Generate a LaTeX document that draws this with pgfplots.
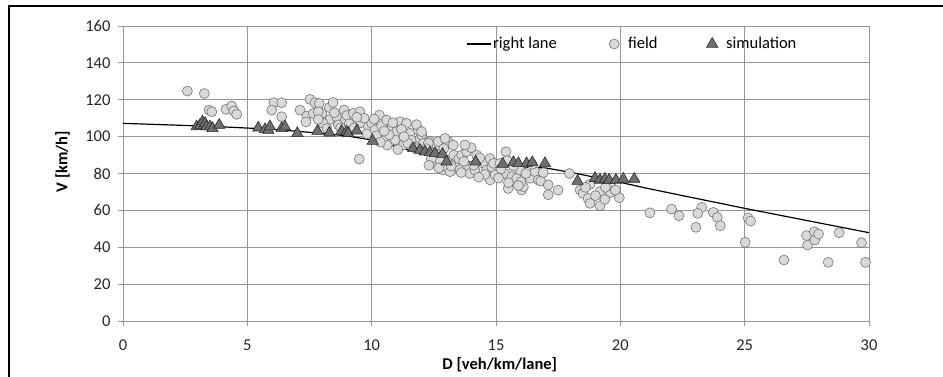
\documentclass[border=0pt]{standalone}
\usepackage{pgfplots}
\pgfplotsset{compat=1.18}
\usepackage{fontspec}
\setmainfont{Carlito}
\definecolor{gridc}{RGB}{150,150,150}
\definecolor{fieldfill}{RGB}{217,217,217}
\definecolor{fielddraw}{RGB}{115,115,115}
\definecolor{simfill}{RGB}{112,112,112}
\definecolor{simdraw}{RGB}{40,40,40}
\newcommand{\cf}{\fontsize{16.5}{20}\selectfont}
\pgfplotsset{
  linelegend/.style={legend image code/.code={\draw[##1] (0pt,0pt) -- (24pt,0pt);}},
  marklegend/.style={legend image code/.code={\path[draw=none,fill=none] (0pt,-3pt) rectangle (24pt,3pt); \draw[mark repeat=2,mark phase=2,##1] plot coordinates {(0pt,0pt) (12pt,0pt) (24pt,0pt)};}},
}
\begin{document}
\begin{tikzpicture}
\begin{axis}[
  at={(0,0)}, anchor=south west,
  x=24.867pt, y=1.84375pt,
  xmin=0, xmax=30, ymin=0, ymax=160,
  xtick={0,5,...,30}, ytick={0,20,...,160},
  clip=false,
  grid=major,
  major grid style={draw=gridc, line width=0.8pt},
  axis line style={draw=gridc, line width=0.8pt},
  tick style={draw=gridc, line width=0.8pt},
  tick align=outside, major tick length=5pt,
  xtick pos=lower, ytick pos=left,
  /pgf/number format/assume math mode=true,
  tick label style={font=\cf, text=black!85},
  xticklabel style={yshift=-10pt},
  yticklabel style={xshift=-4pt},
  label style={font=\cf\bfseries, text=black},
  xlabel={D [veh/km/lane]},
  ylabel={V [km/h]},
  xlabel style={at={(axis description cs:0.505,0)}, anchor=base, yshift=-48pt},
  ylabel style={at={(axis description cs:-0.0744,0.54)}, anchor=base},
  legend columns=3,
  legend style={at={(0.4598,0.939)}, anchor=west, draw=none, fill=none,
    inner sep=0pt, outer sep=0pt, nodes={inner sep=2pt}, font=\cf,
    /tikz/column sep=0pt},
]
\addplot[black, line width=1.2pt, linelegend]
  coordinates {(0,107.2) (2,106.3) (4,105.3) (6,104.0) (8,101.8) (9,100.4) (10,98.2) (11,94.5) (12,90.8) (13,88.5) (14,86.2) (15,84.4) (16,83.6) (17,83.0) (18,80.6) (19,77.9) (20,75.2) (21,72.2) (22,69.4) (25,61.1) (30,47.9)};
\addlegendentry{\makebox[107pt][l]{right lane}}
\addplot[only marks, mark=*, mark size=5pt,
  mark options={fill=fieldfill, draw=fielddraw, line width=0.6pt}, marklegend]
  coordinates {
  (2.59,124.7) (3.27,123.4) (3.46,114.4) (3.57,113.5) (4.14,114.8) (4.37,116.6) (4.46,113.9) (4.57,112.1)
  (6.07,118.4) (6.38,118.4) (5.98,114.4) (6.38,110.8) (7.12,114.4) (7.39,111.2) (7.36,108)
  (7.52,120.2) (7.72,118.4) (7.89,118) (7.65,112.6) (8.0,112.6) (8.3,115.8) (8.32,109.3) (8.59,110.8)
  (8.89,114.4) (8.93,109) (8.05,107.2) (8.66,106.3) (7.85,113.5) (7.85,109.3) (8.2,104.5) (8.5,113)
  (8.75,104.8) (9.0,111.5) (8.45,118.5) (9.1,107)
  (9.26,112.6) (9.53,113.5) (9.56,107.6) (9.86,105.4) (10,107.2) (10.31,111.7) (10.13,103.6) (9.3,104.8)
  (9.7,110) (10.1,109.5) (9.5,87.8) (9.8,101.5) (10.4,106) (10.2,100.5) (9.4,110.5)
  (10.6,109) (10.8,104.5) (11,102.7) (11.14,108.1) (11.4,107.2) (10.94,98.2) (10.63,95.4) (11.27,95.4)
  (11.54,101.8) (11.87,103.6) (10.7,101) (11.2,104) (11.6,98) (11.8,106.5) (10.5,103) (11.45,96.5)
  (10.85,107.5) (11.95,99) (11.3,100) (11.7,94) (10.35,97) (11.05,93)
  (12.01,100.9) (12.08,96.4) (12.34,97.3) (12.61,95.4) (12.75,90.9) (12.55,85.5) (12.88,81.9) (13.02,87.1)
  (12.01,102.7) (12.28,96.4) (12.68,97.3) (13.08,97.3) (13.28,95.4) (12.48,90.9) (12.75,87.1) (13.02,83.6)
  (13.15,81) (13.42,85.5) (12.2,93.5) (12.9,93.5) (13.3,90) (12.4,88) (13.5,88)
  (12.3,84.5) (12.7,83) (13.2,84) (12.95,99)
  (13.62,90) (13.82,91.8) (13.88,83.6) (13.95,80) (14.15,81.9) (14.22,90) (14.49,85.5) (14.62,81.9)
  (14.76,88.1) (14.83,83.6) (14.76,76.5) (14.96,79.2) (13.7,86.5) (14.0,94) (14.35,88.5) (14.1,84.5)
  (14.55,79.5) (14.9,85.5) (13.55,82) (13.6,80.5) (14.3,78) (13.75,95.5)
  (15.16,85.5) (15.4,91.8) (15.36,80) (15.49,71.9) (15.63,78.3) (15.83,77.4) (15.96,81.9) (16.03,71)
  (16.1,72.8) (16.37,77.4) (16.57,81) (15.2,82.5) (15.7,84) (16.2,80) (15.5,75) (16.0,75.5) (16.45,85)
  (15.1,77.5) (15.45,87) (15.9,73.5)
  (16.7,76.5) (16.8,75.9) (17.1,73.8) (17.1,68.5) (17.5,71) (17.95,80) (16.9,80.5)
  (18.38,71) (18.5,69.2) (18.7,66.5) (18.78,63.8) (19.18,62.5) (19.18,70.2) (19.38,66) (19.61,69.7)
  (19.62,74.7) (19.96,66.9) (18.78,74.1) (18.6,72.5) (19.0,68) (19.4,72.5) (19.8,71)
  (21.19,58.7) (22.06,60.7) (22.36,57.1) (23.27,61.6) (23.11,58.4) (23.04,50.8) (23.74,58.9) (23.9,56.2)
  (24.02,51.7) (25.02,42.7) (25.14,55.9) (25.24,54.2) (26.58,33.1) (27.49,46.3) (27.53,41.2) (27.8,48.4)
  (27.82,43.9) (27.97,47.2) (28.36,31.8) (28.8,47.9) (29.7,42.5) (29.86,31.8)
  };
\addlegendentry{\makebox[70pt][l]{field}}
\addplot[only marks, mark=triangle*, mark size=6.5pt,
  mark options={fill=simfill, draw=simdraw, line width=0.6pt}, marklegend]
  coordinates {
  (2.96,105.4) (3.1,106.3) (3.2,108.1) (3.3,107.2) (3.36,105.4) (3.5,105.4) (3.6,104.5) (3.87,106.3)
  (5.44,104.8) (5.71,103.9) (5.84,103.6) (5.91,105.4) (6.38,104.5) (6.51,105.4) (7.01,101.8) (7.82,103)
  (8.3,102.1) (8.79,103) (8.99,102.7) (9.06,101.8) (9.4,103.2) (10.04,97.6)
  (11.67,93.6) (11.94,92.7) (12.14,91.8) (12.34,91.3) (12.55,90.9) (12.85,90.5) (13.01,86.4)
  (14.18,86.4) (15.27,85.1) (15.7,86) (15.9,85.5) (16.23,85.5) (16.46,86) (16.97,85.5)
  (18.28,75.9) (18.98,77.4) (19.18,76.5) (19.38,77) (19.55,76.5) (19.82,76.5) (20.12,77) (20.56,77)
  };
\addlegendentry{simulation}
\end{axis}
\pgfresetboundingbox
\path[use as bounding box] (-123pt,-55pt) rectangle (820pt,321pt);
\draw[line width=1.3pt, black] (-114pt,-56pt) -- (-114pt,315pt) -- (821pt,315pt);
\end{tikzpicture}
\end{document}
